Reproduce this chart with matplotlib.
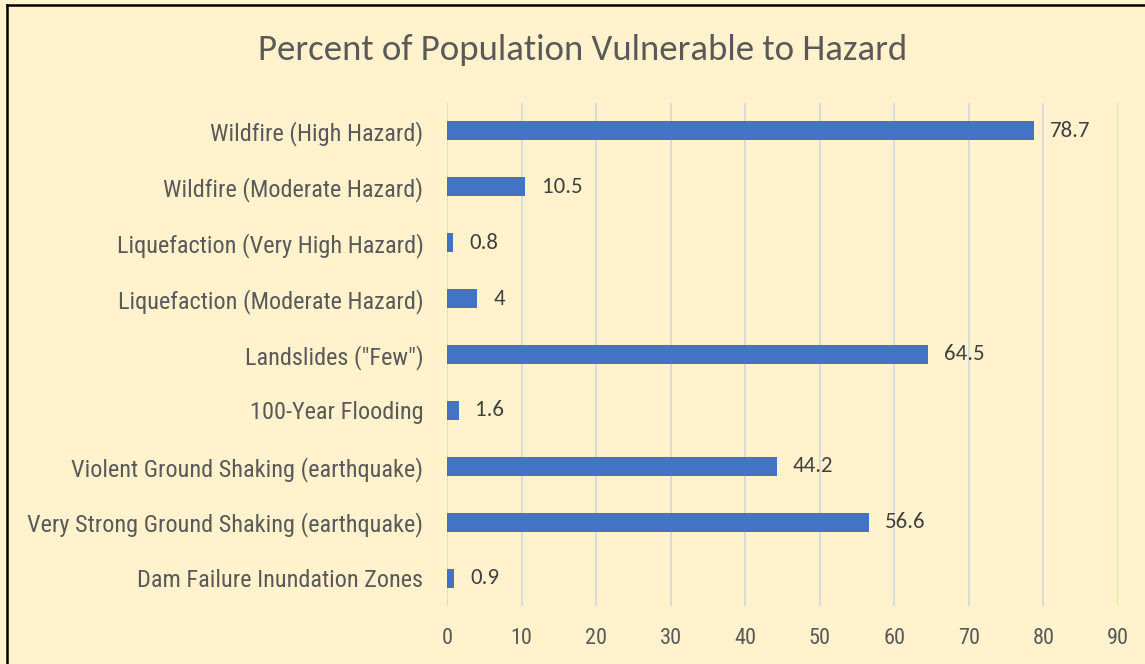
import matplotlib
matplotlib.use("Agg")
import matplotlib.pyplot as plt
from matplotlib.lines import Line2D

categories = [
    "Wildfire (High Hazard)",
    "Wildfire (Moderate Hazard)",
    "Liquefaction (Very High Hazard)",
    "Liquefaction (Moderate Hazard)",
    "Landslides (\"Few\")",
    "100-Year Flooding",
    "Violent Ground Shaking (earthquake)",
    "Very Strong Ground Shaking (earthquake)",
    "Dam Failure Inundation Zones",
]
values = [78.7, 10.5, 0.8, 4, 64.5, 1.6, 44.2, 56.6, 0.9]
value_labels = ["78.7", "10.5", "0.8", "4", "64.5", "1.6", "44.2", "56.6", "0.9"]
xticks = [0, 10, 20, 30, 40, 50, 60, 70, 80, 90]

W, H = 1145, 664
bg = "#FFF2CC"
fig = plt.figure(figsize=(W / 100, H / 100), dpi=100, facecolor=bg)
ax = fig.add_axes([447 / W, 1 - 606 / H, (1118 - 447) / W, (606 - 103) / H])
ax.set_facecolor(bg)

ypos = list(range(len(categories)))
ax.barh(ypos, values, height=0.34, color="#4472C4", zorder=3)
for y, v, lab in zip(ypos, values, value_labels):
    ax.text(v + 2.2, y, lab, va="center", ha="left", fontsize=16.5,
            color="#404040", family="Carlito", zorder=4)

ax.set_ylim(len(categories) - 0.5, -0.5)
ax.set_xlim(0, 90)
ax.set_yticks(ypos)
ax.set_yticklabels(categories, fontsize=17.5, color="#595959", family="Roboto Condensed")
ax.set_xticks(xticks)
ax.set_xticklabels([str(t) for t in xticks], fontsize=16, color="#595959", family="Roboto Condensed")
ax.tick_params(axis="y", length=0, pad=17)
ax.tick_params(axis="x", length=0, pad=16)
ax.grid(axis="x", color="#D9D9D9", linewidth=1.3, zorder=0)
for s in ax.spines.values():
    s.set_visible(False)

fig.text(583 / W, 1 - 50 / H, "Percent of Population Vulnerable to Hazard",
         ha="center", va="center", fontsize=26.5, color="#595959", family="Carlito")

fig.add_artist(Line2D([7 / W, 7 / W], [0, 1 - 5 / H], transform=fig.transFigure, color="black", linewidth=1.8))
fig.add_artist(Line2D([7 / W, 1], [1 - 5 / H, 1 - 5 / H], transform=fig.transFigure, color="black", linewidth=1.8))

fig.savefig("out.png", dpi=100, facecolor=bg)
